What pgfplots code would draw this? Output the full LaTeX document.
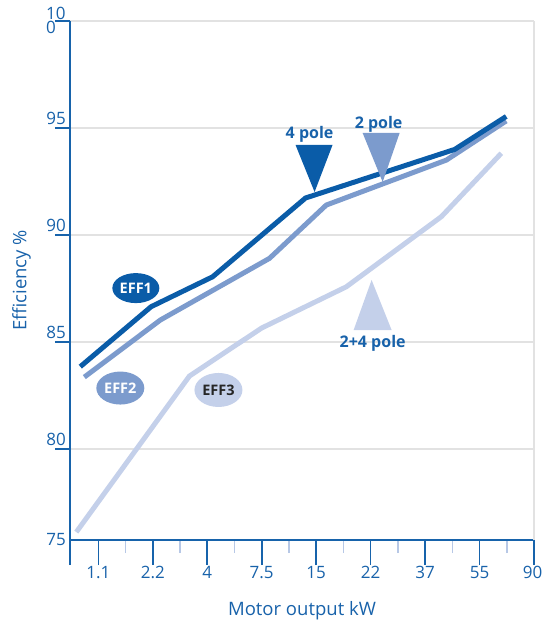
\documentclass[border=0pt]{standalone}
\usepackage{pgfplots}
\pgfplotsset{compat=1.18}
\usetikzlibrary{shapes.geometric}
\usepackage{fontspec}
\setmainfont{Open Sans}

\definecolor{effone}{HTML}{0A5CA8}
\definecolor{efftwo}{HTML}{7C9BCD}
\definecolor{effthree}{HTML}{C4D0EA}
\definecolor{axisblue}{HTML}{1763AB}
\definecolor{txtblue}{HTML}{1862AA}
\definecolor{minorblue}{HTML}{B7C8E6}
\definecolor{gridgray}{HTML}{E2E2E2}

\begin{document}
\begin{tikzpicture}[x=1pt,y=1pt]
\begin{axis}[
  name=ax, at={(0,0)}, anchor=south west,
  scale only axis, width=464pt, height=519pt,
  xmin=-0.52, xmax=8, ymin=75.75, ymax=100,
  clip=false,
  axis lines=left,
  axis line style={-, draw=axisblue, line width=1.6pt},
  tick align=outside,
  major tick length=15pt,
  minor tick length=13pt,
  xtick={0,...,8},
  xticklabels={1.1,2.2,4,7.5,15,22,37,55,\hspace*{-3pt}90},
  minor xtick={0.5,1.5,...,7.5},
  extra x ticks={-0.52,0,1,2,3,4,5,6,7,8},
  extra x tick labels={,,,,,,,,,},
  extra x tick style={major tick length=25pt},
  ytick={80,85,90,95,100},
  yticklabels={80,85,90,95,},
  minor ytick={},
  ymajorgrids,
  grid style={draw=gridgray, line width=1.3pt},
  major tick style={draw=axisblue, line width=1.6pt},
  minor tick style={draw=minorblue, line width=1.6pt},
  tick label style={font=\fontsize{17}{17}\selectfont, text=txtblue},
  yticklabel style={anchor=south east, inner sep=0pt, xshift=11pt, yshift=3pt},
  xticklabel style={anchor=north, inner sep=0pt, yshift=-11pt},
  xlabel={Motor output kW}, ylabel={Efficiency \%},
  label style={font=\fontsize{18.5}{18.5}\selectfont, text=txtblue},
  xlabel style={at={(axis description cs:0.5,0)}, anchor=base, yshift=-75pt},
  ylabel style={at={(axis description cs:0,0.5)}, anchor=base, yshift=43.5pt},
]
% right border
\draw[gridgray, line width=1.3pt] (axis cs:8,75.75) -- (axis cs:8,100);

% 2+4 pole (EFF3)
\addplot[effthree, line width=5pt, no marks] coordinates {
  (-0.404,76.12) (1.673,83.41) (2.996,85.65) (4.553,87.58) (6.3,90.86) (7.40,93.82)
};
% 2 pole (EFF2)
\addplot[efftwo, line width=5pt, no marks] coordinates {
  (-0.257,83.36) (1.14,86.03) (3.143,88.91) (4.186,91.4) (6.39,93.5) (7.49,95.33)
};
% 4 pole (EFF1)
\addplot[effone, line width=5pt, no marks] coordinates {
  (-0.331,83.85) (0.969,86.65) (2.10,88.05) (3.805,91.73) (6.544,94.0) (7.49,95.54)
};

% pointers
\fill[effone] (axis cs:3.621,94.21) -- (axis cs:4.301,94.21) -- (axis cs:3.971,92.01) -- cycle;
\fill[efftwo] (axis cs:4.853,94.77) -- (axis cs:5.533,94.77) -- (axis cs:5.221,92.48) -- cycle;
\fill[effthree] (axis cs:4.688,85.56) -- (axis cs:5.386,85.56) -- (axis cs:5.018,87.90) -- cycle;
\node[font=\fontsize{16}{16}\selectfont\bfseries, text=txtblue] at (axis cs:3.879,94.72) {4 pole};
\node[font=\fontsize{16}{16}\selectfont\bfseries, text=txtblue] at (axis cs:5.147,95.19) {2 pole};
\node[font=\fontsize{16}{16}\selectfont\bfseries, text=txtblue] at (axis cs:5.037,84.95) {2+4 pole};

% class badges
\node[ellipse, fill=effone, minimum width=47pt, minimum height=30pt, inner sep=0pt,
  text=white, font=\fontsize{14.5}{14.5}\selectfont\bfseries] at (axis cs:0.689,87.52) {EFF1};
\node[ellipse, fill=efftwo, minimum width=48pt, minimum height=33pt, inner sep=0pt,
  text=white, font=\fontsize{14.5}{14.5}\selectfont\bfseries] at (axis cs:0.404,82.85) {EFF2};
\node[ellipse, fill=effthree, minimum width=48pt, minimum height=34pt, inner sep=0pt,
  text=black!85, font=\fontsize{14.5}{14.5}\selectfont\bfseries] at (axis cs:2.206,82.76) {EFF3};

% odd y labels
\node[anchor=east, inner sep=0pt, xshift=-4pt, text=txtblue, font=\fontsize{17}{17}\selectfont]
  at (axis cs:-0.52,75.75) {75};
\node[anchor=north west, align=left, inner sep=0pt, text=txtblue, font=\fontsize{17}{14.5}\selectfont]
  at ([xshift=-24pt,yshift=14.5pt]axis cs:-0.52,100) {10\\0};
\end{axis}
\pgfresetboundingbox
\path[use as bounding box] (-70,-82) rectangle (472,540);
\end{tikzpicture}
\end{document}
